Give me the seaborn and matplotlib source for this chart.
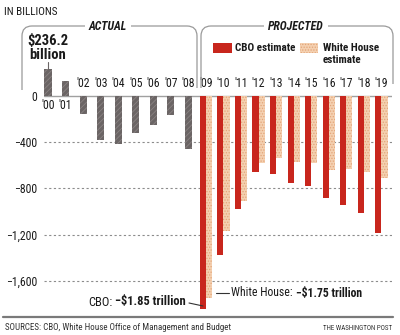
import matplotlib
matplotlib.use("Agg")
import matplotlib.pyplot as plt
import matplotlib.transforms as mtransforms
from matplotlib.path import Path
from matplotlib.patches import PathPatch, Rectangle
from matplotlib.lines import Line2D
from matplotlib import font_manager
import seaborn as sns
import pandas as pd

# ---------------- data ----------------
actual_years = ["'00", "'01", "'02", "'03", "'04", "'05", "'06", "'07", "'08"]
actual_values = [236.2, 128.2, -157.8, -377.6, -412.7, -318.3, -248.2, -160.7, -458.6]

proj_years = ["'09", "'10", "'11", "'12", "'13", "'14", "'15", "'16", "'17", "'18", "'19"]
cbo_values = [-1845, -1379, -977, -658, -672, -749, -775, -885, -940, -1015, -1189]
wh_values = [-1752, -1171, -912, -581, -533, -570, -583, -637, -634, -655, -712]

series_names = ["CBO estimate", "White House estimate"]
y_ticks = [0, -400, -800, -1200, -1600]
y_tick_labels = ["0", "\u2212400", "\u2212800", "\u22121,200", "\u22121,600"]

# ---------------- style ----------------
sns.set_theme(style="white")
entries = font_manager.fontManager.ttflist
names = {f.name for f in entries}
fam = None
for cand in ["Liberation Sans Narrow", "Roboto Condensed", "Open Sans Condensed",
             "Noto Sans Condensed"]:
    if cand in names:
        fam = cand
        break
stretch = "normal"
if fam is None:
    if any(f.name == "DejaVu Sans" and f.stretch == "condensed" for f in entries):
        fam = "DejaVu Sans"
        stretch = "condensed"
    else:
        fam = "Roboto" if "Roboto" in names else "Liberation Sans"
plt.rcParams["font.family"] = [fam, "DejaVu Sans"]
plt.rcParams["font.stretch"] = stretch
plt.rcParams["hatch.linewidth"] = 0.6

GRAY = "#6b6565"
RED = "#c8261d"
PEACH = "#f4d0b0"
PEACH_DOT = "#e3a579"
TXT = "#1a1a1a"

W, H = 400, 335
fig = plt.figure(figsize=(W / 100, H / 100), dpi=100)
fig.patch.set_facecolor("white")

PX = mtransforms.Affine2D().scale(1 / W, -1 / H).translate(0, 1) + fig.transFigure

ax_l, ax_r, ax_t, ax_b = 44, 392, 20, 312
ax = fig.add_axes([ax_l / W, (H - ax_b) / H, (ax_r - ax_l) / W, (ax_b - ax_t) / H])
ax.set_facecolor("none")

all_years = actual_years + proj_years
n_act = len(actual_years)

df_act = pd.DataFrame({"pos": list(range(n_act)), "value": actual_values})
df_proj = pd.DataFrame({
    "pos": [n_act + i for i in range(len(proj_years))] * 2,
    "value": cbo_values + wh_values,
    "series": [series_names[0]] * len(cbo_values) + [series_names[1]] * len(wh_values),
})

for t in y_ticks[1:]:
    ax.axhline(t, color="#8c8c8c", lw=0.8, dashes=(2, 2.2), zorder=0)
ax.axhline(0, color="#a0a0a0", lw=1.0, zorder=0)

sns.barplot(data=df_act, x="pos", y="value", native_scale=True, width=0.4,
            color=GRAY, saturation=1, linewidth=0, ax=ax, zorder=2, errorbar=None)
n_before = len(ax.patches)
sns.barplot(data=df_proj, x="pos", y="value", hue="series", hue_order=series_names,
            native_scale=True, dodge=True, width=0.7,
            palette=[RED, PEACH], saturation=1, linewidth=0, ax=ax, legend=False,
            zorder=2, errorbar=None)

for p in ax.patches[:n_before]:
    p.set_hatch("//////")
    p.set_edgecolor("#8a8383")
    p.set_linewidth(0)
peach_r = matplotlib.colors.to_rgba(PEACH)[0]
for p in ax.patches[n_before:]:
    if abs(p.get_facecolor()[0] - peach_r) < 0.02:
        p.set_hatch("......")
        p.set_edgecolor(PEACH_DOT)
        p.set_linewidth(0)

x_per_px = 1 / 17.55
ax.set_xlim((ax_l - 48) * x_per_px, (ax_r - 48) * x_per_px)
ppu = 0.1155
ax.set_ylim(-(ax_b - 96) / ppu, (96 - ax_t) / ppu)

ax.set_xticks([])
ax.set_xlabel("")
ax.set_ylabel("")
ax.set_yticks(y_ticks)
ax.set_yticklabels(y_tick_labels, fontsize=8.5, color=TXT)
ax.tick_params(axis="y", length=0, pad=5)
for s in ax.spines.values():
    s.set_visible(False)

all_values = actual_values + cbo_values
for i, (lab, v) in enumerate(zip(all_years, all_values)):
    y = -80 if v > 0 else 104
    ax.text(i, y, lab, ha="center", va="center", fontsize=8.5, color=TXT)

ax.plot([0, 0], [actual_values[0], actual_values[0] + 60], color=GRAY, lw=0.8)
fig.text(48 / W, 1 - 48 / H, "$236.2\nbillion", ha="center", va="center",
         fontsize=10.5, fontweight="bold", color=TXT, linespacing=1.0)

def draw_box(x0, x1, ytop, ybot_l, ybot_r, r=10):
    verts = [(x0, ybot_l), (x0, ytop + r), (x0, ytop), (x0 + r, ytop),
             (x1 - r, ytop), (x1, ytop), (x1, ytop + r), (x1, ybot_r)]
    codes = [Path.MOVETO, Path.LINETO, Path.CURVE3, Path.CURVE3,
             Path.LINETO, Path.CURVE3, Path.CURVE3, Path.LINETO]
    fig.add_artist(PathPatch(Path(verts, codes), transform=PX, fill=False,
                             edgecolor="#9a9a9a", lw=0.9))

draw_box(22, 197, 26, 90, 88)
draw_box(201, 393, 26, 88, 84)

box_kw = dict(facecolor="white", edgecolor="none", pad=3)
fig.text(108 / W, 1 - 27 / H, "ACTUAL", ha="center", va="center", fontsize=8.5,
         fontweight="bold", fontstyle="italic", color=TXT, bbox=box_kw)
fig.text(296 / W, 1 - 27 / H, "PROJECTED", ha="center", va="center", fontsize=8.5,
         fontweight="bold", fontstyle="italic", color=TXT, bbox=box_kw)

fig.add_artist(Rectangle((213, 43), 19, 10, transform=PX, facecolor=RED, lw=0))
fig.add_artist(Rectangle((300, 43), 18, 10, transform=PX, facecolor=PEACH,
                         hatch="......", edgecolor=PEACH_DOT, lw=0))
fig.text(235 / W, 1 - 48 / H, "CBO estimate", ha="left", va="center", fontsize=8,
         fontweight="bold", color=TXT)
fig.text(323 / W, 1 - 54 / H, "White House\nestimate", ha="left", va="center",
         fontsize=8, fontweight="bold", color=TXT, linespacing=1.2)

fig.text(4 / W, 1 - 12 / H, "IN BILLIONS", ha="left", va="center", fontsize=8,
         color=TXT)

fig.canvas.draw()
renderer = fig.canvas.get_renderer()

t_cbo_b = fig.text(186 / W, 1 - 302 / H, "\u2212$1.85 trillion", ha="right",
                   va="center", fontsize=9, fontweight="bold", color=TXT)
bb = t_cbo_b.get_window_extent(renderer)
fig.text(bb.x0 - 3, bb.y0 + bb.height / 2, "CBO:", transform=None, ha="right",
         va="center", fontsize=9, color=TXT)
fig.add_artist(Line2D([189, 203], [303, 306], transform=PX, color="#333", lw=0.8))

t_wh = fig.text(231 / W, 1 - 293 / H, "White House:", ha="left", va="center",
                fontsize=8.5, color=TXT)
bb = t_wh.get_window_extent(renderer)
fig.text(bb.x1 + 3, bb.y0 + bb.height / 2, "\u2212$1.75 trillion", transform=None,
         ha="left", va="center", fontsize=8.5, fontweight="bold", color=TXT)
fig.add_artist(Line2D([216, 229], [293, 293], transform=PX, color="#333", lw=0.8))

fig.add_artist(Line2D([3, 393], [317, 317], transform=PX, color="#7a7a7a", lw=1.6))
fig.text(5 / W, 1 - 328 / H, "SOURCES: CBO, White House Office of Management and Budget",
         ha="left", va="center", fontsize=6.5, color="#333")
fig.text(392 / W, 1 - 328 / H, "THE WASHINGTON POST", ha="right", va="center",
         fontsize=5, color="#333")

fig.savefig("out.png", dpi=100, facecolor="white")
